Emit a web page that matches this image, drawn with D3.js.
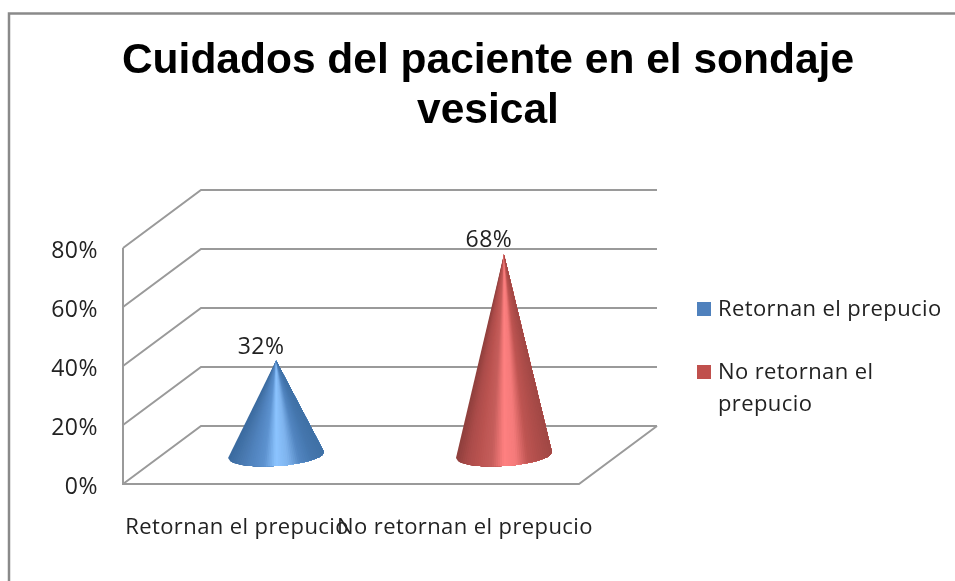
<!DOCTYPE html>
<html>
<head>
<meta charset="utf-8">
<script src="https://cdn.jsdelivr.net/npm/d3@7"></script>
<style>
body { margin: 0; background: #fff; }
svg { filter: blur(0.45px); }
text { font-family: "Open Sans", sans-serif; fill: #222; font-size: 22px; letter-spacing: 0.4px; }
.title { font-family: "Liberation Sans", sans-serif; font-weight: bold; font-size: 42.5px; fill: #000; letter-spacing: 0; }
.wall { fill: none; stroke: #9a9a9a; stroke-width: 2; }
.yAxis .domain, .yAxis line { display: none; }
</style>
</head>
<body>
<div id="chart"></div>
<script>
var categories = ["Retornan el prepucio", "No retornan el prepucio"];
var values = [32, 68];
var tickVals = [0, 20, 40, 60, 80];
var titleLines = ["Cuidados del paciente en el sondaje", "vesical"];
var legendLines = [["Retornan el prepucio"], ["No retornan el", "prepucio"]];
var colorStops = [
	["#3a6a9f", "#4878ae", "#5285c0", "#5d92cf", "#8cc4ff", "#7fb4ee", "#5285c0", "#4577ae", "#3f70a5"],
	["#8f3f3c", "#ac4c4a", "#bb5451", "#c65e5c", "#ff8080", "#f47a7a", "#be5552", "#ae4d4a", "#a04744"]
];
var legendColors = ["#4f81bd", "#c0504d"];

(function () {
	var dx = 78, dy = 58;
	var x = d3.scaleBand().domain(categories).range([123, 579]).paddingInner(0.579).paddingOuter(0.29);
	var y = d3.scaleLinear().domain([0, 80]).range([484, 248]);

	var svg = d3.select("#chart").append("svg")
		.attr("width", 955).attr("height", 581)
		.style("display", "block");

	// outer frame
	svg.append("path").attr("d", "M9,581V13.5H955").attr("fill", "none").attr("stroke", "#8a8a8a").attr("stroke-width", 2.5);

	// title
	svg.selectAll(".title").data(titleLines).enter().append("text")
		.attr("class", "title")
		.attr("x", 488)
		.attr("y", function (d, i) { return 73 + i * 50; })
		.attr("text-anchor", "middle")
		.text(function (d) { return d; });

	// walls and floor
	var grid = svg.append("g");
	grid.selectAll("path").data(tickVals).enter().append("path")
		.attr("class", "wall")
		.attr("d", function (d) {
			return "M123," + y(d) + "L" + (123 + dx) + "," + (y(d) - dy) + "H657";
		});
	grid.append("path").attr("class", "wall")
		.attr("d", "M123," + y(80) + "V" + y(0) + "H579L657," + (y(0) - dy));

	var yAxis = d3.axisLeft(y).tickValues(tickVals).tickFormat(function (d) { return d + "%"; }).tickPadding(0);
	svg.append("g").attr("class", "yAxis")
		.attr("transform", "translate(98,1)")
		.call(yAxis)
		.selectAll("text")
		.attr("x", 0)
		.attr("dy", "0.36em")
		.style("font-family", '"Open Sans", sans-serif')
		.style("font-size", "23px")
		.style("letter-spacing", "0.5px")
		.style("fill", "#222");

	// cones are cut into wedges from the apex so the shading converges on it,
	// each wedge runs on under the next one so no seams show
	var wedgeCount = 48;
	var wedges = d3.range(wedgeCount);
	var ry = 11, tilt = 3;
	function basePoint(cx, rx, base, t) {
		var u = 2 * t - 1;
		return [cx + rx * u, base - tilt * u + ry * Math.sqrt(Math.max(0, 1 - u * u))];
	}
	var cones = svg.selectAll(".cone").data(values).enter().append("g").attr("class", "cone");
	cones.each(function (d, i) {
		var cx = x(categories[i]) + x.bandwidth() / 2 + dx / 2;
		var rx = x.bandwidth() / 2;
		var base = y(0) - dy / 2;
		var apex = [cx, y(d) - dy / 2];
		var shade = d3.piecewise(d3.interpolateRgb, colorStops[i]);
		d3.select(this).selectAll("path").data(wedges).enter().append("path")
			.attr("d", function (w) {
				var pts = [apex];
				for (var k = w; k <= wedgeCount; k++) pts.push(basePoint(cx, rx, base, k / wedgeCount));
				return d3.line()(pts) + "Z";
			})
			.attr("fill", function (w) { return shade((w + 0.5) / wedgeCount); });
	});

	// value labels
	svg.selectAll(".valLabel").data(values).enter().append("text")
		.attr("class", "valLabel")
		.attr("x", function (d, i) { return x(categories[i]) + x.bandwidth() / 2 + dx / 2 - 15; })
		.attr("y", function (d) { return y(d) - dy / 2 - 7; })
		.attr("text-anchor", "middle")
		.style("font-size", "23px")
		.style("letter-spacing", "0.5px")
		.text(function (d) { return d + "%"; });

	// category labels
	svg.selectAll(".catLabel").data(categories).enter().append("text")
		.attr("class", "catLabel")
		.attr("x", function (d) { return x(d) + x.bandwidth() / 2; })
		.attr("y", 534)
		.attr("text-anchor", "middle")
		.text(function (d) { return d; });

	// legend
	var legendY = [316, 379];
	var legend = svg.selectAll(".legendItem").data(legendLines).enter().append("g").attr("class", "legendItem");
	legend.append("rect")
		.attr("x", 697)
		.attr("y", function (d, i) { return legendY[i] - 14; })
		.attr("width", 14).attr("height", 14)
		.attr("fill", function (d, i) { return legendColors[i]; });
	legend.each(function (lines, i) {
		d3.select(this).selectAll("text").data(lines).enter().append("text")
			.attr("x", 718)
			.attr("y", function (d, j) { return legendY[i] + j * 32; })
			.text(function (d) { return d; });
	});
})()
</script>
</body>
</html>
